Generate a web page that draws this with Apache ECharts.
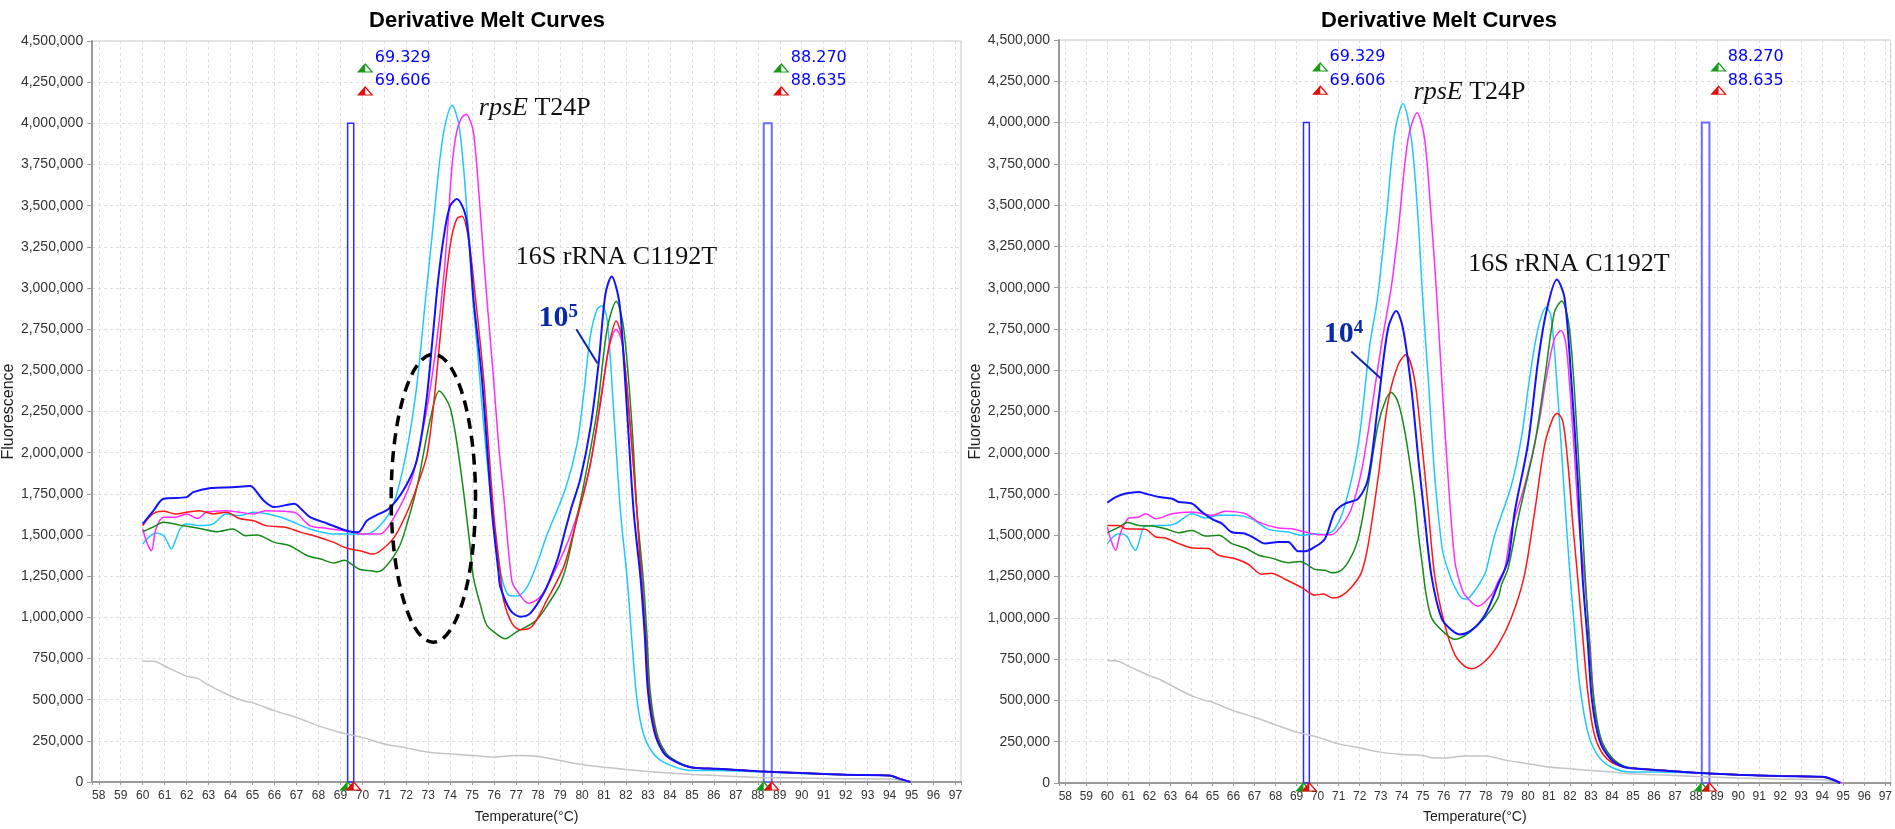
<!doctype html>
<html lang="en">
<head>
<meta charset="UTF-8">
<title>Derivative Melt Curves</title>
<script src="https://cdn.jsdelivr.net/npm/echarts@6/dist/echarts.min.js"></script>
<style>
    html, body { margin: 0; padding: 0; background: #fff; }
    #chart { width: 1895px; height: 829px; }
</style>
</head>
<body>
<div id="chart"></div>
<script>
    // [temperature (°C), fluorescence in millions]
    const leftCyan = [[60,1.445],[60.3,1.49],[60.6,1.512],[60.95,1.496],[61.15,1.45],[61.3,1.415],[61.5,1.47],[61.7,1.537],[62,1.567],[62.6,1.557],[63.2,1.567],[63.8,1.628],[64.4,1.618],[65.05,1.638],[66,1.618],[66.7,1.587],[67.6,1.537],[68.7,1.506],[69.6,1.506],[70.2,1.506],[70.8,1.557],[71.4,1.68],[72,2.0],[72.47,2.4],[72.85,2.9],[73.2,3.35],[73.5,3.75],[73.75,3.98],[74.08,4.11],[74.38,4.0],[74.6,3.74],[74.83,3.33],[75.03,2.93],[75.25,2.6],[75.5,2.2],[75.75,1.85],[76.0,1.55],[76.28,1.28],[76.66,1.135],[77.04,1.13],[77.5,1.185],[78.0,1.345],[78.4,1.5],[79.24,1.78],[79.77,2.05],[80.07,2.35],[80.38,2.71],[80.68,2.87],[80.9,2.89],[81.14,2.81],[81.44,2.25],[81.75,1.64],[82.05,1.24],[82.28,0.84],[82.5,0.5],[82.8,0.29],[83.26,0.17],[83.87,0.11],[84.93,0.07],[86,0.07],[88,0.062],[90,0.052],[92,0.044],[94,0.038],[94.4,0.022],[94.95,0]];
    const leftMagenta = [[60,1.537],[60.2,1.45],[60.4,1.404],[60.6,1.537],[60.95,1.608],[61.5,1.608],[62,1.628],[62.5,1.6],[62.9,1.638],[63.8,1.648],[64.4,1.638],[65.05,1.628],[65.6,1.648],[66.9,1.638],[67.6,1.557],[68.4,1.54],[69.6,1.516],[69.9,1.506],[70.8,1.506],[71.4,1.598],[72.2,1.82],[72.77,2.15],[73.1,2.4],[73.39,2.68],[73.69,3.05],[73.88,3.36],[74.08,3.74],[74.28,3.94],[74.5,4.03],[74.73,4.055],[74.95,4.0],[75.06,3.94],[75.21,3.74],[75.44,3.33],[75.67,2.93],[75.97,2.45],[76.2,2.05],[76.43,1.74],[76.8,1.225],[77.04,1.16],[77.57,1.085],[78.1,1.125],[78.7,1.265],[79.47,1.5],[80.23,1.84],[80.83,2.29],[81.21,2.63],[81.55,2.75],[81.82,2.67],[82.2,2.15],[82.5,1.64],[82.73,1.24],[82.93,0.85],[83.1,0.5],[83.38,0.28],[83.75,0.17],[84.2,0.125],[84.93,0.09],[86.15,0.08],[88,0.066],[90,0.054],[92,0.045],[94,0.04],[94.4,0.025],[94.95,0]];
    const leftBlue = [[60,1.567],[60.5,1.65],[60.95,1.72],[62,1.73],[62.3,1.76],[63.1,1.785],[64.1,1.79],[64.9,1.797],[65.05,1.785],[65.5,1.71],[66,1.67],[66.9,1.69],[67.2,1.66],[67.6,1.61],[68.4,1.57],[69.3,1.526],[69.8,1.516],[70.2,1.587],[70.6,1.618],[71.2,1.66],[71.9,1.78],[72.47,1.95],[72.9,2.3],[73.2,2.7],[73.45,3.05],[73.75,3.35],[74.0,3.5],[74.3,3.54],[74.68,3.45],[74.88,3.25],[75.06,2.93],[75.44,2.45],[75.9,1.64],[76.2,1.27],[76.28,1.185],[76.73,1.044],[77.19,1.004],[77.64,1.024],[78.25,1.145],[78.6,1.25],[78.9,1.36],[79.16,1.49],[79.5,1.66],[79.92,1.84],[80.38,2.15],[80.76,2.55],[81.06,2.96],[81.35,3.07],[81.6,2.98],[81.75,2.85],[82.05,2.25],[82.35,1.64],[82.66,1.24],[82.85,0.9],[83.0,0.55],[83.3,0.3],[83.7,0.18],[84.17,0.13],[84.93,0.09],[86.15,0.08],[88,0.066],[90,0.054],[92,0.044],[94,0.04],[94.4,0.022],[94.95,0]];
    const leftRed = [[60,1.557],[60.3,1.61],[60.6,1.638],[60.95,1.644],[61.5,1.628],[62,1.638],[62.6,1.648],[63.2,1.628],[63.8,1.638],[64.4,1.6],[65.05,1.587],[65.6,1.557],[66.5,1.547],[67.2,1.516],[67.8,1.496],[68.7,1.455],[69.3,1.419],[69.9,1.404],[70.5,1.384],[71.1,1.435],[71.5,1.496],[72.1,1.658],[72.5,1.8],[72.93,1.98],[73.25,2.3],[73.54,2.7],[73.8,3.05],[74.05,3.3],[74.3,3.42],[74.53,3.435],[74.83,3.3],[75.14,2.95],[75.52,2.45],[75.97,1.64],[76.28,1.27],[76.43,1.104],[76.81,0.964],[77.19,0.924],[77.72,0.944],[78.4,1.104],[79.16,1.305],[79.62,1.52],[80.38,1.93],[80.99,2.45],[81.29,2.69],[81.55,2.8],[81.82,2.69],[82.2,2.15],[82.5,1.64],[82.69,1.24],[82.88,0.9],[83.04,0.54],[83.34,0.3],[83.72,0.18],[84.17,0.13],[84.93,0.09],[86.15,0.08],[88,0.066],[90,0.054],[92,0.044],[94,0.04],[94.4,0.022],[94.95,0]];
    const leftGreen = [[60,1.52],[60.5,1.55],[60.95,1.577],[61.7,1.56],[62.6,1.54],[63.4,1.52],[64.1,1.537],[64.7,1.496],[65.2,1.5],[66,1.455],[66.7,1.435],[67.5,1.374],[68.1,1.354],[68.7,1.33],[69.2,1.347],[69.5,1.323],[69.9,1.29],[70.4,1.283],[70.7,1.277],[71.1,1.313],[71.7,1.435],[72.1,1.6],[72.5,1.8],[73.1,2.21],[73.5,2.375],[74,2.27],[74.45,1.92],[74.9,1.435],[75.05,1.246],[75.35,1.086],[75.65,0.955],[76.0,0.91],[76.5,0.87],[77,0.91],[77.9,0.98],[78.5,1.09],[79.0,1.2],[79.3,1.32],[79.6,1.5],[80.07,1.8],[80.68,2.25],[81.14,2.75],[81.56,2.92],[81.9,2.75],[82.28,2.15],[82.5,1.64],[82.78,1.24],[82.95,0.9],[83.1,0.55],[83.4,0.3],[83.8,0.18],[84.25,0.13],[85,0.09],[86.2,0.08],[88,0.066],[90,0.054],[92,0.044],[94,0.04],[94.4,0.022],[94.95,0]];
    const leftGray = [[60,0.733],[60.5,0.733],[61.1,0.697],[62,0.643],[62.5,0.629],[63,0.588],[64,0.522],[64.6,0.492],[65,0.482],[66,0.432],[67,0.392],[68,0.341],[69,0.301],[70,0.271],[71,0.231],[72,0.207],[73,0.181],[74,0.171],[75,0.161],[76,0.151],[77,0.161],[78,0.155],[79,0.131],[80,0.106],[81,0.09],[82,0.076],[83,0.064],[84,0.054],[85,0.046],[86,0.04],[87,0.034],[88,0.028],[90,0.024],[92,0.02],[94,0.018],[94.5,0.01],[95,0]];

    const rightCyan = [[60,1.45],[60.4,1.504],[60.7,1.51],[60.95,1.49],[61.15,1.44],[61.34,1.409],[61.55,1.48],[61.74,1.55],[62.13,1.56],[62.76,1.56],[63.24,1.571],[64.03,1.631],[64.66,1.605],[65.3,1.621],[66.08,1.621],[66.87,1.6],[67.66,1.536],[68.6,1.52],[69.24,1.5],[69.87,1.51],[70.35,1.504],[70.82,1.54],[71.3,1.682],[71.93,2.046],[72.48,2.652],[72.84,2.93],[73.27,3.43],[73.67,3.94],[74.06,4.116],[74.46,3.9],[74.77,3.43],[75.0,2.93],[75.26,2.45],[75.58,1.84],[75.9,1.44],[76.05,1.35],[76.37,1.23],[76.53,1.185],[76.84,1.12],[77.08,1.114],[77.5,1.17],[77.8,1.23],[78.0,1.28],[78.42,1.5],[79.21,1.8],[79.69,2.09],[80.08,2.45],[80.48,2.75],[80.87,2.88],[81.1,2.83],[81.42,2.35],[81.74,1.74],[81.98,1.3],[82.21,0.951],[82.45,0.61],[82.85,0.308],[83.32,0.167],[83.95,0.097],[84.9,0.066],[86,0.066],[88,0.06],[90,0.05],[92,0.042],[94,0.036],[94.4,0.022],[94.85,0]];
    const rightMagenta = [[60,1.55],[60.2,1.46],[60.4,1.409],[60.55,1.48],[60.7,1.54],[61.03,1.605],[61.5,1.611],[61.82,1.631],[62.3,1.6],[63.08,1.631],[64.03,1.641],[65.0,1.621],[65.6,1.646],[66.56,1.631],[67.2,1.58],[68.14,1.544],[68.77,1.54],[69.4,1.52],[70.03,1.504],[70.66,1.504],[71.14,1.56],[71.6,1.66],[72.08,1.884],[72.55,2.248],[73.03,2.652],[73.5,3.0],[73.82,3.33],[74.3,3.9],[74.73,4.06],[75.09,3.9],[75.4,3.43],[75.64,3.0],[75.9,2.45],[76.21,1.84],[76.53,1.34],[76.8,1.2],[77.0,1.14],[77.63,1.07],[78.27,1.14],[78.58,1.22],[78.9,1.3],[79.21,1.53],[79.84,1.8],[80.48,2.15],[80.87,2.45],[81.26,2.69],[81.58,2.74],[81.82,2.65],[82.13,2.15],[82.45,1.54],[82.69,1.25],[82.95,0.85],[83.18,0.45],[83.5,0.247],[83.97,0.147],[84.6,0.097],[85.25,0.086],[86.5,0.076],[88,0.062],[90,0.05],[92,0.042],[94,0.036],[94.45,0.025],[94.95,0]];
    const rightBlue = [[60,1.698],[60.4,1.732],[60.87,1.753],[61.5,1.763],[61.8,1.753],[62.45,1.732],[63.08,1.722],[63.4,1.702],[64.03,1.692],[64.5,1.641],[65.0,1.597],[65.45,1.571],[65.9,1.52],[66.56,1.51],[67.03,1.48],[67.5,1.45],[68.14,1.46],[68.6,1.46],[69.08,1.403],[69.4,1.403],[69.87,1.43],[70.35,1.48],[70.82,1.641],[71.3,1.692],[71.93,1.722],[72.4,1.843],[72.87,2.288],[73.35,2.753],[73.74,2.858],[74.06,2.753],[74.45,2.4],[74.8,1.95],[75.1,1.6],[75.42,1.25],[75.9,0.996],[76.37,0.926],[76.76,0.9],[77.32,0.926],[77.95,1.016],[78.58,1.2],[79.06,1.35],[79.37,1.64],[80.0,2.05],[80.48,2.55],[80.87,2.85],[81.38,3.05],[81.74,2.94],[82.06,2.45],[82.37,1.84],[82.6,1.25],[82.85,0.85],[83.05,0.5],[83.4,0.26],[83.9,0.15],[84.5,0.1],[85.2,0.086],[86.5,0.076],[88,0.062],[90,0.05],[92,0.042],[94,0.038],[94.4,0.026],[94.85,0]];
    const rightRed = [[60,1.56],[60.55,1.56],[60.87,1.54],[61.8,1.537],[62.3,1.49],[62.76,1.484],[63.4,1.45],[64.03,1.423],[64.8,1.42],[65.3,1.379],[66.08,1.358],[66.7,1.325],[67.35,1.264],[67.8,1.27],[68.45,1.234],[69.24,1.184],[69.87,1.138],[70.27,1.144],[70.74,1.12],[71.14,1.134],[71.6,1.184],[72.08,1.274],[72.4,1.44],[72.87,1.843],[73.35,2.308],[73.82,2.53],[74.2,2.595],[74.6,2.45],[74.92,2.1],[75.24,1.69],[75.57,1.255],[76.05,0.956],[76.53,0.776],[77.0,0.706],[77.32,0.692],[77.95,0.736],[78.58,0.836],[79.2,0.996],[79.82,1.25],[80.32,1.64],[80.8,2.05],[81.19,2.21],[81.39,2.24],[81.66,2.19],[81.9,1.94],[82.15,1.55],[82.4,1.2],[82.6,0.9],[82.85,0.55],[83.15,0.3],[83.6,0.17],[84.3,0.105],[85.2,0.086],[86.5,0.076],[88,0.062],[90,0.05],[92,0.042],[94,0.036],[94.4,0.025],[94.85,0]];
    const rightGreen = [[60,1.516],[60.55,1.55],[60.95,1.577],[61.5,1.56],[62.13,1.557],[62.76,1.54],[63.4,1.516],[64.03,1.53],[64.66,1.496],[65.3,1.5],[65.92,1.45],[66.56,1.423],[67.2,1.379],[67.82,1.362],[68.6,1.334],[69.16,1.342],[69.56,1.318],[69.87,1.294],[70.35,1.288],[70.66,1.274],[70.98,1.278],[71.45,1.338],[71.93,1.48],[72.4,1.803],[72.87,2.167],[73.27,2.33],[73.5,2.365],[73.82,2.308],[74.16,2.12],[74.6,1.74],[74.8,1.5],[75.0,1.3],[75.15,1.15],[75.42,1.0],[75.9,0.925],[76.53,0.87],[77.16,0.906],[77.95,1.0],[78.58,1.12],[78.74,1.2],[79.06,1.3],[79.53,1.6],[80.32,2.05],[80.8,2.45],[81.26,2.85],[81.61,2.92],[81.98,2.75],[82.37,2.05],[82.69,1.33],[82.9,0.9],[83.1,0.55],[83.45,0.28],[83.95,0.16],[84.6,0.1],[85.3,0.088],[86.5,0.076],[88,0.062],[90,0.05],[92,0.042],[94,0.036],[94.4,0.025],[94.85,0]];
    const rightGray = [[60,0.74],[60.4,0.74],[61.03,0.706],[62,0.65],[62.45,0.63],[63,0.593],[64,0.529],[64.66,0.499],[65,0.489],[66,0.438],[67,0.398],[68,0.352],[69,0.308],[70,0.278],[71,0.237],[72,0.213],[73,0.187],[74,0.173],[75,0.167],[75.56,0.151],[76,0.151],[77,0.163],[78,0.163],[79,0.137],[80,0.117],[81,0.097],[82,0.086],[83,0.076],[84,0.066],[85,0.056],[86,0.05],[87,0.046],[88,0.04],[90,0.03],[92,0.024],[94,0.02],[94.5,0.01],[95,0]];

    // melt-range cursors (°C) and the top of their boxes
    const cursors = [69.329, 69.606, 88.270, 88.635];
    const cursorTop = 4000000;

    const MILLION = 1e6;
    const COLORS = {
        cyan: '#1ec8ff', magenta: '#ff2cff', blue: '#1212ff',
        red: '#ff1616', green: '#168a16', gray: '#c4c4c4'
    };
    const NARROW = "'Liberation Sans Narrow', 'Arial Narrow', 'Liberation Sans', Arial, sans-serif";
    const SANS = "'Liberation Sans', Arial, sans-serif";
    const SERIF = "'Liberation Serif', 'Times New Roman', serif";

    // annotation places, in data units of each panel
    const notes = [
        { rps: [75.28, 4.09e6], s16: [76.96, 3.186e6], copies: '5', copyAt: [78.0, 2.816e6],
          lead: [[79.74, 2.749e6], [80.70, 2.543e6]] },
        { rps: [74.54, 4.185e6], s16: [77.14, 3.145e6], copies: '4', copyAt: [70.27, 2.716e6],
          lead: [[71.6, 2.613e6], [73.02, 2.449e6]] }
    ];
    const ellipse = { cx: 73.23, cy: 1.723e6, rx: 1.92, ry: 0.874e6 };

    const panels = [
        [['gray', leftGray], ['cyan', leftCyan], ['magenta', leftMagenta], ['green', leftGreen], ['red', leftRed], ['blue', leftBlue]],
        [['gray', rightGray], ['cyan', rightCyan], ['magenta', rightMagenta], ['green', rightGreen], ['red', rightRed], ['blue', rightBlue]]
    ];

    function halfTri(coord, color, offsetY) {
        // outlined triangle with its left half filled
        return [
            { coord: coord, symbol: 'triangle', symbolSize: [14, 8], symbolOffset: [0, offsetY],
              itemStyle: { color: '#fff', borderColor: color, borderWidth: 1.2 } },
            { coord: coord, symbol: 'path://M10,0 L10,10 L0,10 Z', symbolSize: [7, 8], symbolOffset: [-3.5, offsetY],
              itemStyle: { color: color } }
        ];
    }

    function textPoint(coord, label) {
        return { coord: coord, symbol: 'circle', symbolSize: 1, itemStyle: { color: 'rgba(0,0,0,0)' },
                 label: Object.assign({ show: true, position: 'right', distance: 0 }, label) };
    }

    function markSeries(idx) {
        const n = notes[idx];
        let points = [];
        [0, 2].forEach(function (k) {
            const t = cursors[k];
            points = points.concat(halfTri([t + 0.8, 4.336e6], '#1a9a1a', 0));
            points = points.concat(halfTri([t + 0.8, 4.196e6], '#e01010', 0));
            points = points.concat(halfTri([cursors[k], 0], '#1a9a1a', 4));
            points = points.concat(halfTri([cursors[k + 1], 0], '#e01010', 4));
            points.push(textPoint([t + 1.21, 4.395e6], { formatter: cursors[k].toFixed(3), color: '#0000ff', fontSize: 16, fontFamily: "'DejaVu Sans', sans-serif" }));
            points.push(textPoint([t + 1.21, 4.255e6], { formatter: cursors[k + 1].toFixed(3), color: '#0000ff', fontSize: 16, fontFamily: "'DejaVu Sans', sans-serif" }));
        });
        points.push(textPoint(n.rps, {
            formatter: '{i|rpsE} {n|T24P}', fontSize: 26, fontFamily: SERIF, color: '#111',
            rich: { i: { fontStyle: 'italic', fontSize: 26, fontFamily: SERIF, color: '#111' },
                    n: { fontSize: 26, fontFamily: SERIF, color: '#111' } }
        }));
        points.push(textPoint(n.s16, { formatter: '16S rRNA C1192T', fontSize: 26, fontFamily: SERIF, color: '#111' }));
        points.push(textPoint(n.copyAt, {
            formatter: '{b|10}{s|' + n.copies + '}',
            rich: { b: { fontSize: 30, fontWeight: 'bold', fontFamily: SERIF, color: '#0a28a8', lineHeight: 32 },
                    s: { fontSize: 19, fontWeight: 'bold', fontFamily: SERIF, color: '#0a28a8', lineHeight: 19, verticalAlign: 'top' } }
        }));

        return {
            type: 'line', xAxisIndex: idx, yAxisIndex: idx, data: [], z: 20, silent: true,
            markArea: {
                silent: true,
                itemStyle: { color: 'rgba(0,0,0,0)', borderColor: '#2a2aff', borderWidth: 1.5 },
                data: [
                    [{ coord: [cursors[0], 0] }, { coord: [cursors[1], cursorTop] }],
                    [{ coord: [cursors[2], 0], itemStyle: { borderColor: '#6b6bff', borderWidth: 2 } }, { coord: [cursors[3], cursorTop] }]
                ]
            },
            markLine: {
                silent: true, symbol: ['none', 'none'], label: { show: false },
                lineStyle: { color: '#0a28a8', width: 2, type: 'solid' },
                data: [[{ coord: n.lead[0] }, { coord: n.lead[1] }]]
            },
            markPoint: { silent: true, label: { show: false }, data: points }
        };
    }

    const grids = [
        { left: 92, top: 41, width: 869, height: 741 },
        { left: 1059, top: 40, width: 835, height: 744 }
    ];

    let series = [];
    panels.forEach(function (curves, idx) {
        curves.forEach(function (c) {
            series.push({
                type: 'line', xAxisIndex: idx, yAxisIndex: idx, silent: true,
                showSymbol: false, smooth: 0.3,
                lineStyle: { color: COLORS[c[0]], width: c[0] === 'blue' ? 2 : 1.5 },
                itemStyle: { color: COLORS[c[0]] },
                data: c[1].map(function (p) { return [p[0], p[1] * MILLION]; })
            });
        });
        series.push(markSeries(idx));
    });

    const option = {
        animation: false,
        backgroundColor: '#fff',
        title: [
            { text: 'Derivative Melt Curves', left: 482, top: 5, textAlign: 'center',
              textStyle: { fontSize: 22, fontWeight: 'bold', color: '#000', fontFamily: SANS } },
            { text: 'Derivative Melt Curves', left: 1434, top: 5, textAlign: 'center',
              textStyle: { fontSize: 22, fontWeight: 'bold', color: '#000', fontFamily: SANS } }
        ],
        grid: grids.map(function (g) {
            return Object.assign({ show: true, borderColor: '#c8c8c8', borderWidth: 1, containLabel: false }, g);
        }),
        xAxis: [0, 1].map(function (i) {
            return {
                type: 'value', gridIndex: i, min: 57.7, max: 97.25, minInterval: 1, maxInterval: 1,
                name: 'Temperature(°C)', nameLocation: 'middle', nameGap: i === 0 ? 28 : 27,
                nameTextStyle: { fontSize: 14, color: '#222', fontFamily: SANS },
                axisLine: { onZero: false, lineStyle: { color: '#9a9a9a', width: 2 } },
                axisTick: { show: true, length: 3, lineStyle: { color: '#9a9a9a' } },
                axisLabel: {
                    margin: 8, fontSize: 12, color: '#333', fontFamily: NARROW,
                    formatter: function (v) { return Math.abs(v - Math.round(v)) < 1e-6 ? String(Math.round(v)) : ''; }
                },
                splitLine: { show: true, lineStyle: { color: '#dedede', type: [3, 3] } }
            };
        }),
        yAxis: [0, 1].map(function (i) {
            return {
                type: 'value', gridIndex: i, min: 0, max: 4500000, interval: 250000,
                name: 'Fluorescence', nameLocation: 'middle', nameGap: i === 0 ? 70 : 67,
                nameTextStyle: { fontSize: 16, color: '#222', fontFamily: SANS },
                axisLine: { show: true, lineStyle: { color: '#9a9a9a', width: 2 } },
                axisTick: { show: true, length: 5, lineStyle: { color: '#9a9a9a' } },
                axisLabel: {
                    margin: 9, fontSize: 14, color: '#333', fontFamily: NARROW,
                    formatter: function (v) { return v.toLocaleString('en-US'); }
                },
                splitLine: { show: true, lineStyle: { color: '#dedede', type: [3, 3] } }
            };
        }),
        series: series
    };

    const chart = echarts.init(document.getElementById('chart'), null, { renderer: 'canvas' });
    chart.setOption(option);

    // dashed ellipse round the green rpsE peak of the left panel
    const c0 = chart.convertToPixel({ gridIndex: 0 }, [ellipse.cx, ellipse.cy]);
    const c1 = chart.convertToPixel({ gridIndex: 0 }, [ellipse.cx + ellipse.rx, ellipse.cy + ellipse.ry]);
    chart.setOption({
        graphic: [{
            type: 'ellipse', z: 100, silent: true,
            shape: { cx: c0[0], cy: c0[1], rx: c1[0] - c0[0], ry: c0[1] - c1[1] },
            style: { fill: 'none', stroke: '#000', lineWidth: 3.5, lineDash: [11, 7] }
        }]
    });
</script>
</body>
</html>
